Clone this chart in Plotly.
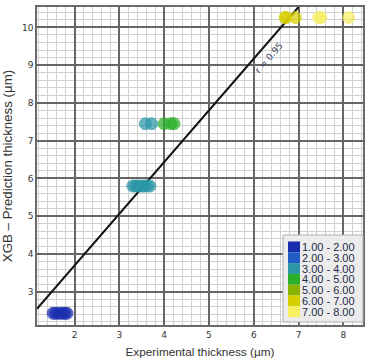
import plotly.graph_objects as go

# ---- data ----
exp_x = [1.52, 1.58, 1.65, 1.72, 1.78, 1.83,
         3.3, 3.36, 3.42, 3.5, 3.55, 3.62, 3.68,
         3.58, 3.72,
         4.0, 4.15, 4.22,
         6.7, 6.72, 6.93, 7.45, 7.5, 8.12]
pred_y = [2.43] * 6 + [5.8] * 7 + [7.45] * 2 + [7.45] * 3 + [10.26] * 6

bin_edges = [1, 2, 3, 4, 5, 6, 7, 8]
bin_labels = ["1.00 - 2.00", "2.00 - 3.00", "3.00 - 4.00", "4.00 - 5.00",
              "5.00 - 6.00", "6.00 - 7.00", "7.00 - 8.00"]
bin_colors = ["#1a2eb0", "#1f5cc4", "#2a96a6", "#2bb02b", "#8ab400", "#d6d000", "#f7ee62"]

fit_x = [1.16, 7.0]
fit_y = [2.55, 10.54]
fit_label = "r = 0.95"

x_range = [1.16, 8.44]
y_range = [2.12, 10.54]


def bin_index(v):
    for i in range(len(bin_edges) - 1):
        if v < bin_edges[i + 1]:
            return i
    return len(bin_edges) - 2


pt_colors = [bin_colors[bin_index(v)] for v in exp_x]

fig = go.Figure()
fig.add_trace(go.Scatter(
    x=fit_x, y=fit_y, mode="lines",
    line=dict(color="#111111", width=2), showlegend=False, hoverinfo="skip"))
fig.add_trace(go.Scatter(
    x=exp_x, y=pred_y, mode="markers",
    marker=dict(size=12, color=pt_colors, opacity=0.72,
                line=dict(color=pt_colors, width=1)),
    showlegend=False))

# rotated label along line
fig.add_annotation(x=6.33, y=9.2, text=fit_label, showarrow=False, textangle=-49,
                   font=dict(family="DejaVu Sans", size=9, color="#3a4660"))

# legend box (paper coords)
px0, px1 = 37, 363
py0, py1 = 7, 325
W, H = px1 - px0, py1 - py0


def fx(p):
    return (p - px0) / W


def fy(p):
    return 1 - (p - py0) / H


fig.add_shape(type="rect", xref="paper", yref="paper",
              x0=fx(283), x1=fx(363), y0=fy(322), y1=fy(235),
              fillcolor="#ececec", line=dict(color="#b0b0b0", width=1), layer="above")
top = 241.5
h = 10.8
for i, (lab, col) in enumerate(zip(bin_labels, bin_colors)):
    y0p = top + i * h
    fig.add_shape(type="rect", xref="paper", yref="paper",
                  x0=fx(288), x1=fx(300), y0=fy(y0p + h), y1=fy(y0p),
                  fillcolor=col, line=dict(width=0), layer="above")
    fig.add_annotation(xref="paper", yref="paper", x=fx(300), y=fy(y0p + h / 2),
                       text=lab, showarrow=False, xanchor="left", yanchor="middle",
                       font=dict(family="Liberation Sans", size=11, color="#1c2a48"))

axis_common = dict(
    showgrid=True, gridcolor="#666666", gridwidth=1.8,
    minor=dict(dtick=0.2, showgrid=True, gridcolor="#d0d0d0", gridwidth=1.2),
    showline=True, linecolor="#6a6a6a", linewidth=1.5, mirror=True,
    zeroline=False, ticks="",
    tickfont=dict(family="DejaVu Sans", size=9, color="#333333"),
    dtick=1, automargin=False,
)

fig.update_layout(
    width=373, height=362,
    margin=dict(l=37, r=10, t=7, b=37),
    plot_bgcolor="white", paper_bgcolor="white",
    xaxis=dict(range=x_range, title=dict(text="Experimental thickness (µm)", standoff=9,
                                         font=dict(family="Liberation Sans", size=11.8, color="#333333")),
               tick0=0, **axis_common),
    yaxis=dict(range=y_range, title=dict(text="XGB – Prediction thickness (µm)", standoff=10,
                                         font=dict(family="Liberation Sans", size=13.3, color="#333333")),
               tick0=0, **axis_common),
)

fig.write_html("out.html", config={"displayModeBar": False},
               post_script="document.body.style.margin='0';")
